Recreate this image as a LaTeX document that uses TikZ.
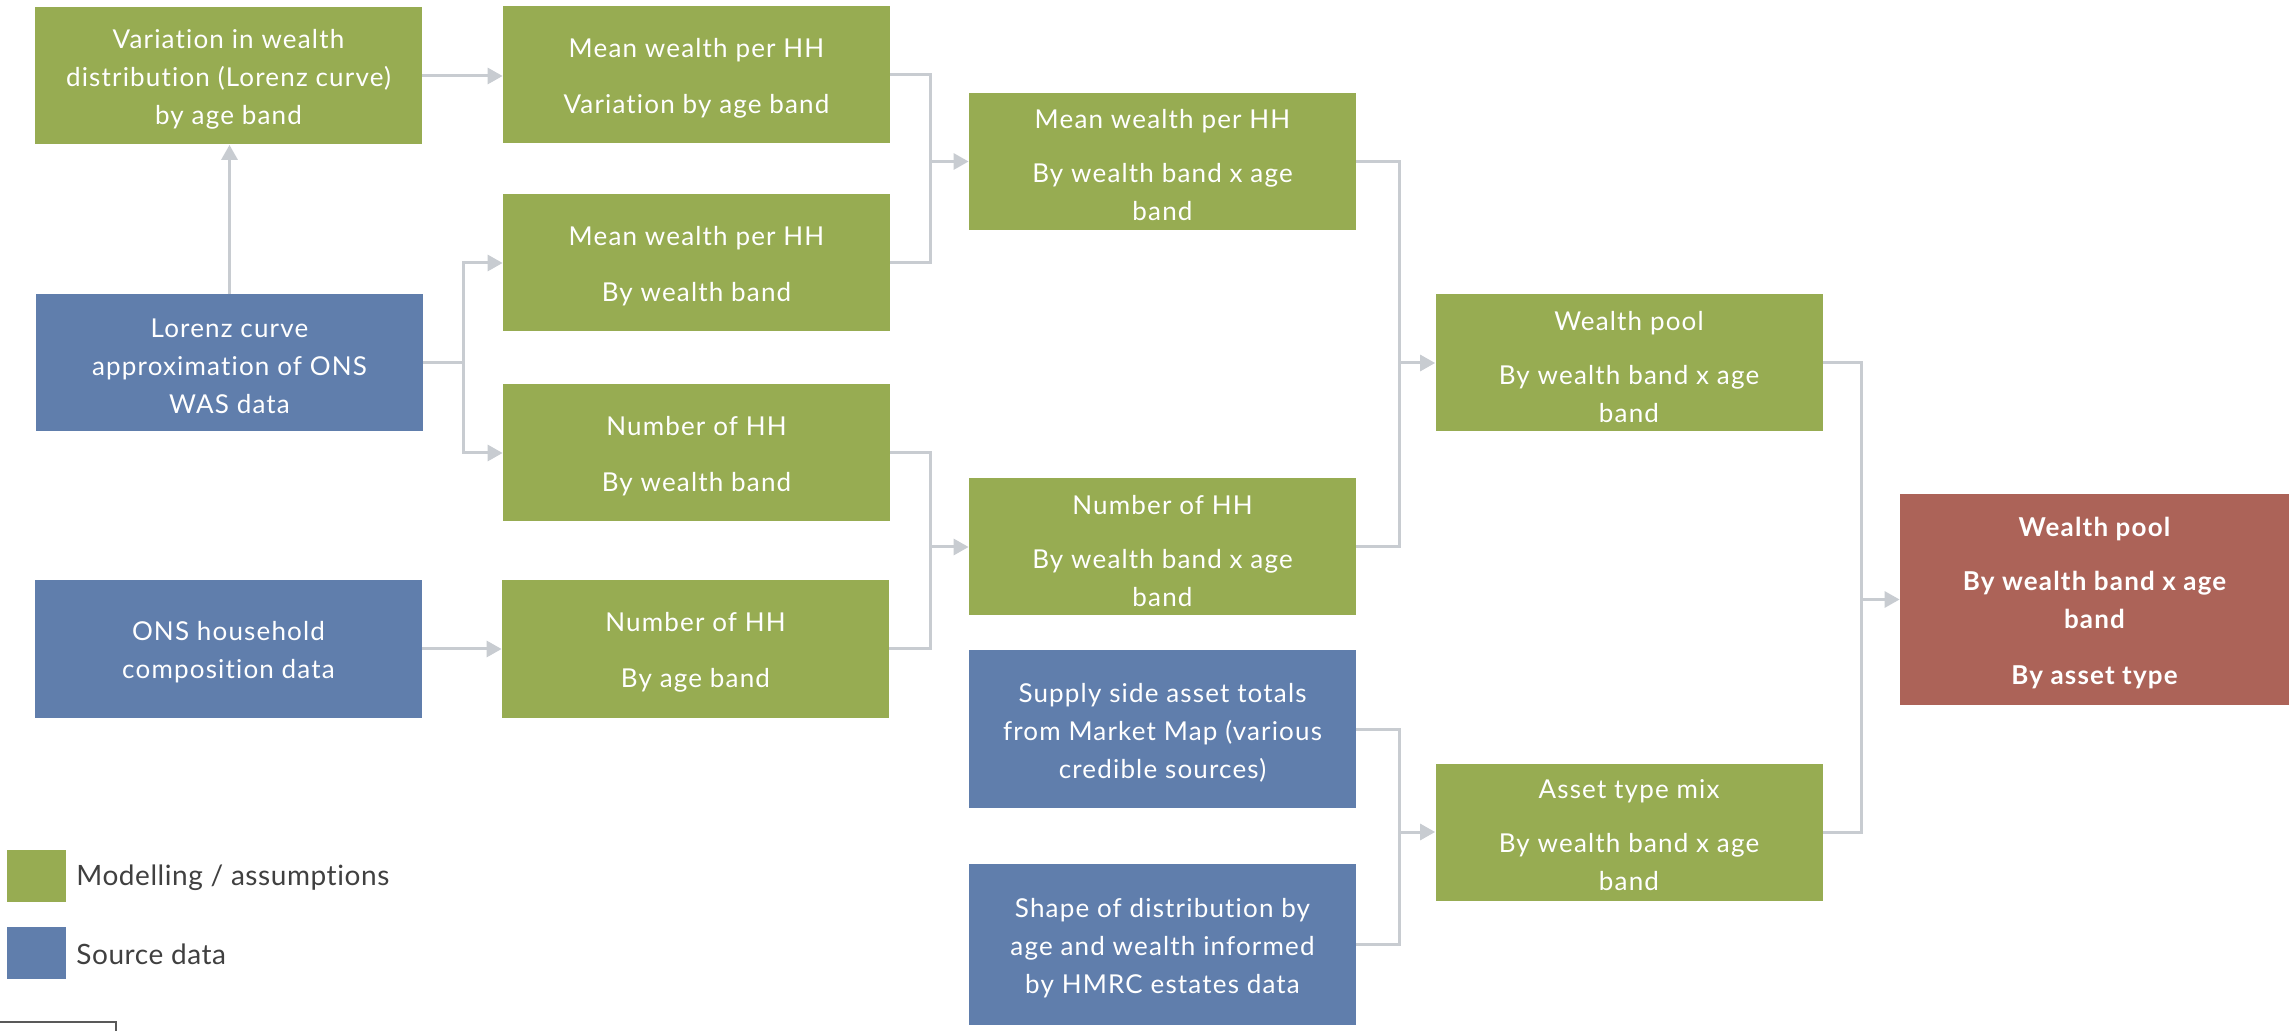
\documentclass[tikz,border=0pt]{standalone}
\usepackage{fontspec}
\setmainfont{Lato}[LetterSpace=4.5, Ligatures={NoCommon,NoContextual}]
\newfontfamily\legfont{Lato}[LetterSpace=2, Ligatures={NoCommon,NoContextual}]
\usetikzlibrary{arrows.meta,calc}
\definecolor{boxgreen}{RGB}{151,172,82}
\definecolor{boxblue}{RGB}{96,126,172}
\definecolor{boxred}{RGB}{172,99,88}
\definecolor{connc}{RGB}{200,204,209}
\definecolor{legtext}{RGB}{64,64,64}
\begin{document}
\begin{tikzpicture}[x=0.5pt,y=-0.5pt,
  box/.style={minimum width=193.5pt, minimum height=68.5pt, inner sep=0pt},
  boxtext/.style={inner sep=0pt, align=center, text=white, yshift=-1.8pt, font=\fontsize{13}{19}\selectfont},
  model/.style={box, fill=boxgreen},
  source/.style={box, fill=boxblue},
  result/.style={box, fill=boxred},
  conn/.style={draw=connc, line width=1.5pt},
  flow/.style={conn, -{Triangle[length=7.5pt,width=8pt]}},
  legbox/.style={minimum width=29.5pt, minimum height=26pt, inner sep=0pt},
  legtxt/.style={anchor=west, inner sep=0pt, text=legtext, font=\legfont\fontsize{14}{16}\selectfont},
]
\fill[white] (0,0) rectangle (2292,1031);
\useasboundingbox (0,0) rectangle (2292,1031);

\node[model,  label={[boxtext]center:{Variation in wealth\\distribution (Lorenz curve)\\by age band}}] (b1) at (228.5,76) {};
\node[model,  label={[boxtext]center:{Mean wealth per HH\\[9pt]Variation by age band}}] (b2) at (696.5,75) {};
\node[model,  label={[boxtext]center:{Mean wealth per HH\\[9pt]By wealth band}}] (b3) at (696.5,263) {};
\node[source, label={[boxtext]center:{Lorenz curve\\approximation of ONS\\WAS data}}] (b4) at (229.5,363) {};
\node[model,  label={[boxtext]center:{Number of HH\\[9pt]By wealth band}}] (b5) at (696.5,453) {};
\node[source, label={[boxtext]center:{ONS household\\composition data}}] (b6) at (228.5,649) {};
\node[model,  label={[boxtext]center:{Number of HH\\[9pt]By age band}}] (b7) at (695.5,649) {};
\node[model,  label={[boxtext]center:{Mean wealth per HH\\[8pt]By wealth band x age\\band}}] (b8) at (1162.5,161.5) {};
\node[model,  label={[boxtext]center:{Number of HH\\[8pt]By wealth band x age\\band}}] (b9) at (1162.5,547) {};
\node[source, minimum height=79pt, label={[boxtext]center:{Supply side asset totals\\from Market Map (various\\credible sources)}}] (b10) at (1162.5,729) {};
\node[source, minimum height=80.5pt, label={[boxtext]center:{Shape of distribution by\\age and wealth informed\\by HMRC estates data}}] (b11) at (1162.5,944.5) {};
\node[model,  label={[boxtext]center:{Wealth pool\\[8pt]By wealth band x age\\band}}] (b12) at (1629,363) {};
\node[model,  label={[boxtext]center:{Asset type mix\\[8pt]By wealth band x age\\band}}] (b13) at (1629,832) {};
\node[result, minimum width=194.5pt, minimum height=105.5pt, label={[boxtext, font=\fontsize{13}{19}\selectfont\bfseries]center:{Wealth pool\\[8pt]By wealth band x age\\band\\[9pt]By asset type}}] (b14) at (2094.5,599.5) {};

% legend
\node[legbox, fill=boxgreen] (lg1) at (36.5,875.5) {};
\node[legtxt] (lt1) at (76,878) {Modelling / assumptions};
\node[legbox, fill=boxblue] (lg2) at (36.5,952.5) {};
\node[legtxt] (lt2) at (76,954) {Source data};

% connectors
\draw[flow] (b1.east) -- (b1.east -| b2.west);
\draw[flow] (b4.north) -- (b4.north |- b1.south);
\coordinate (f1) at ($(b4.east)+(40,0)$);
\draw[conn] (b4.east) -- (f1);
\draw[flow] (f1) |- (b3.west);
\draw[flow] (f1) |- (b5.west);
\draw[flow] (b6.east) -- (b6.east -| b7.west);

\coordinate (m1) at ($(b8.west)+(-38,0)$);
\draw[conn] (b2.east) -| (m1);
\draw[conn] (b3.east) -| (m1);
\draw[flow] (m1) -- (b8.west);

\coordinate (m2) at ($(b9.west)+(-38,0)$);
\draw[conn] (b5.east) -| (m2);
\draw[conn] (b7.east) -| (m2);
\draw[flow] (m2) -- (b9.west);

\coordinate (m3) at ($(b12.west)+(-36,0)$);
\draw[conn] (b8.east) -| (m3);
\draw[conn] (b9.east) -| (m3);
\draw[flow] (m3) -- (b12.west);

\coordinate (m4) at ($(b13.west)+(-36,0)$);
\draw[conn] (b10.east) -| (m4);
\draw[conn] (b11.east) -| (m4);
\draw[flow] (m4) -- (b13.west);

\coordinate (m5) at ($(b14.west)+(-38,0)$);
\draw[conn] (b12.east) -| (m5);
\draw[conn] (b13.east) -| (m5);
\draw[flow] (m5) -- (b14.west);

% clipped frame at bottom left
\draw[draw=black!65, line width=1pt] (0,1022) -- (116,1022) -- (116,1031);
\end{tikzpicture}
\end{document}
